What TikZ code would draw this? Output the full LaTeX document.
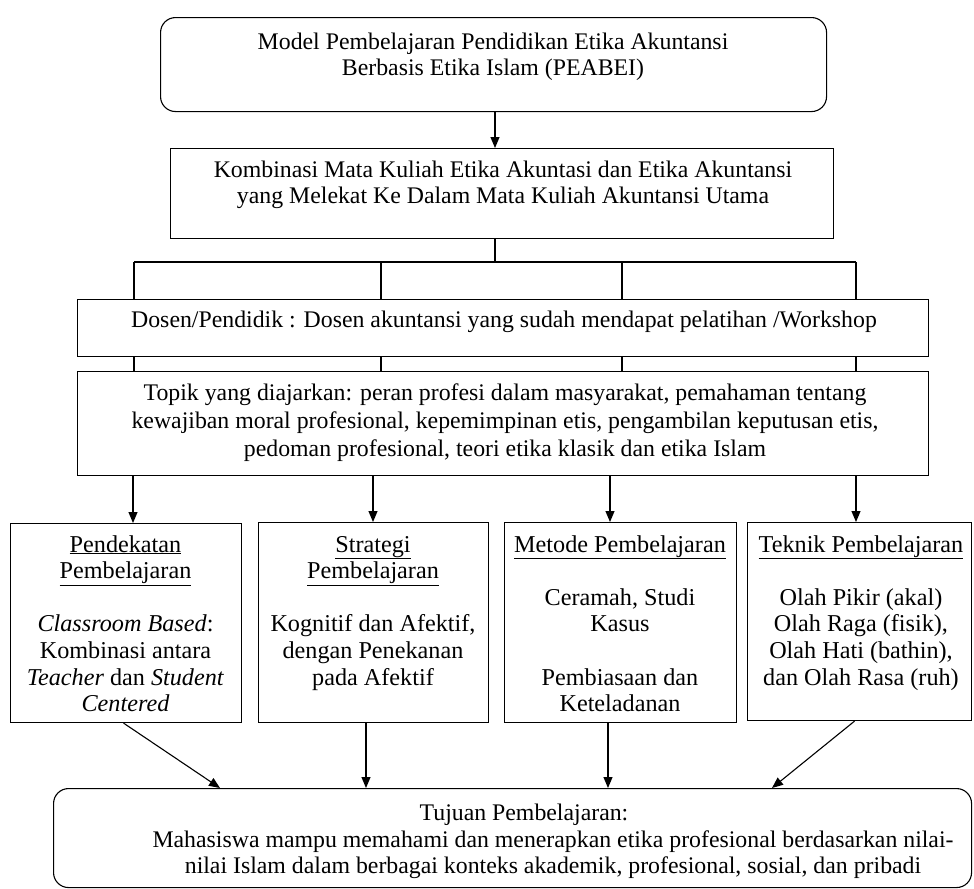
\documentclass[tikz,border=0pt]{standalone}
\usepackage{fontspec}
\setmainfont{Liberation Serif}
\usetikzlibrary{arrows.meta}
\newcommand\mylines[1]{{\setlength\tabcolsep{0pt}\begin{tabular}[t]{c}#1\end{tabular}}}
\begin{document}
\begin{tikzpicture}[x=1bp,y=-1bp,
  box/.style={draw, line width=1.1bp, inner sep=0pt, anchor=north west},
  rbox/.style={box, rounded corners=15bp},
  txt/.style={anchor=base, inner sep=0pt, font=\fontsize{23.8bp}{26.8bp}\selectfont},
  btxt/.style={txt, font=\fontsize{24.2bp}{26.6bp}\selectfont},
  ln/.style={line width=1.1bp},
  arr/.style={ln, -{Triangle[length=11bp,width=9bp]}}]
\useasboundingbox (0,0) rectangle (974,889);
% boxes
\node[rbox, minimum width=666bp, minimum height=94bp] (b1) at (160,17) {};
\node[box, minimum width=663bp, minimum height=90bp] (b2) at (170,148) {};
\node[box, minimum width=851bp, minimum height=57bp] (dos) at (77,299) {};
\node[box, minimum width=851bp, minimum height=104bp] (top) at (77,371) {};
\node[box, minimum width=231bp, minimum height=199bp] (p1) at (10,523) {};
\node[box, minimum width=230bp, minimum height=200bp] (p2) at (258,522) {};
\node[box, minimum width=232bp, minimum height=200bp] (p3) at (504,522) {};
\node[box, minimum width=224bp, minimum height=198bp] (p4) at (747,522) {};
\node[rbox, minimum width=918bp, minimum height=99bp] (fin) at (53,788) {};
% texts
\node[txt] (t1) at (493,49) {\mylines{Model Pembelajaran Pendidikan Etika Akuntansi\\Berbasis Etika Islam (PEABEI)}};
\node[txt] (t2) at (503,177) {\mylines{Kombinasi  Mata Kuliah Etika Akuntasi dan Etika Akuntansi\\yang Melekat Ke Dalam Mata Kuliah Akuntansi Utama}};
\node[txt] (t3) at (504,327) {Dosen/Pendidik : Dosen akuntansi yang sudah mendapat pelatihan /Workshop};
\node[txt, font=\fontsize{23.8bp}{28bp}\selectfont] (t4) at (505,400) {\mylines{Topik yang diajarkan: peran profesi dalam masyarakat, pemahaman tentang\\kewajiban moral profesional, kepemimpinan etis, pengambilan keputusan etis,\\pedoman profesional, teori etika klasik dan etika Islam}};
\node[btxt] (t5) at (125.5,552) {\mylines{\underline{Pendekatan}\\\underline{Pembelajaran}\\ \\\textit{Classroom Based}:\\Kombinasi antara\\\textit{Teacher} dan \textit{Student}\\\textit{Centered}}};
\node[btxt] (t6) at (373,552) {\mylines{\underline{Strategi}\\\underline{Pembelajaran}\\ \\Kognitif dan Afektif,\\dengan Penekanan\\pada Afektif}};
\node[btxt] (t7) at (620,552) {\mylines{\underline{Metode Pembelajaran}\\ \\Ceramah, Studi\\Kasus\\ \\Pembiasaan dan\\Keteladanan}};
\node[btxt] (t8) at (861,552) {\mylines{\underline{Teknik Pembelajaran}\\ \\Olah Pikir (akal)\\Olah Raga (fisik),\\Olah Hati (bathin),\\dan Olah Rasa (ruh)}};
\node[txt] (t9) at (524,820) {Tujuan Pembelajaran:};
\node[txt] (t10) at (553,847) {\mylines{Mahasiswa mampu memahami dan menerapkan etika profesional berdasarkan nilai-\\nilai Islam dalam berbagai konteks akademik, profesional, sosial, dan pribadi}};
% coordinates
\coordinate (j) at (495,262);
\coordinate (v1) at (134,262);
\coordinate (v2) at (381,262);
\coordinate (v3) at (622,262);
\coordinate (v4) at (856,262);
\coordinate (a1) at (133,0);
\coordinate (a2) at (373,0);
\coordinate (a3) at (610,0);
\coordinate (a4) at (856,0);
\coordinate (f1) at (220,788);
\coordinate (f2) at (366,788);
\coordinate (f3) at (608,788);
\coordinate (f4) at (772,788);
% connectors
\draw[arr] (b1.south -| j) -- (b2.north -| j);
\draw[ln] (b2.south -| j) -- (j);
\draw[ln] (v1) -- (v4);
\foreach \v in {v1,v2,v3,v4}{
  \draw[ln] (\v) -- (\v |- dos.north);
  \draw[ln] (\v |- dos.south) -- (\v |- top.north);
}
\draw[arr] (top.south -| a1) -- (p1.north -| a1);
\draw[arr] (top.south -| a2) -- (p2.north -| a2);
\draw[arr] (top.south -| a3) -- (p3.north -| a3);
\draw[arr] (top.south -| a4) -- (p4.north -| a4);
\draw[arr] ([xshift=-2.5bp]p1.south) -- (f1);
\draw[arr] (p2.south -| f2) -- (f2);
\draw[arr] (p3.south -| f3) -- (f3);
\draw[arr] ([xshift=-5bp]p4.south) -- (f4);
\end{tikzpicture}
\end{document}
